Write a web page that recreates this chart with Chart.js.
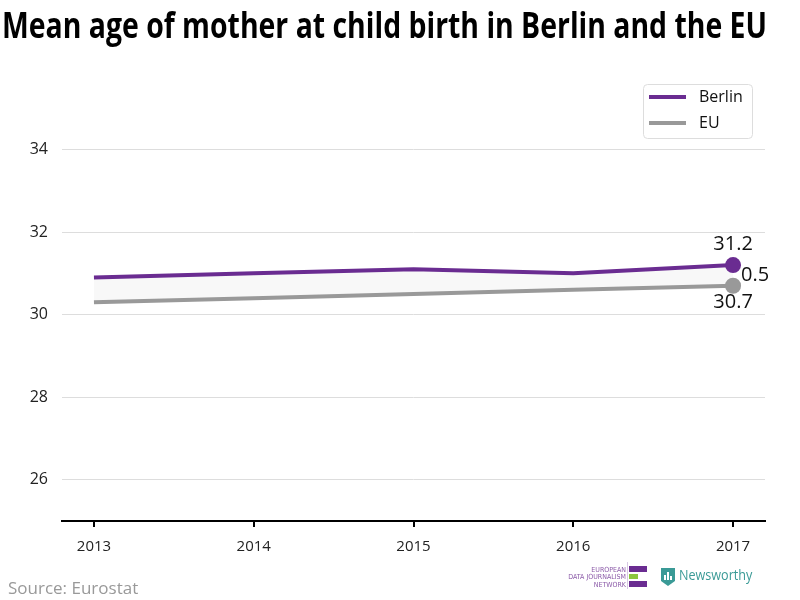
<!DOCTYPE html>
<html>
<head>
<meta charset="utf-8">
<script src="https://cdn.jsdelivr.net/npm/chart.js@4/dist/chart.umd.min.js"></script>
<style>
  html, body { margin: 0; padding: 0; background: #fff; }
  #wrap { position: relative; width: 800px; height: 600px; }
</style>
</head>
<body>
<div id="wrap"><canvas id="chart" width="800" height="600"></canvas></div>
<script>
// Mean age of mother at child birth - Berlin vs EU
const years = [2013, 2014, 2015, 2016, 2017];
const berlinValues = [30.9, 31.0, 31.1, 31.0, 31.2];
const euValues = [30.3, 30.4, 30.5, 30.6, 30.7];
const yTicks = [26, 28, 30, 32, 34];

const PURPLE = '#6a2c91';
const GREY = '#999999';

function toPoints(values) {
    return years.map((y, i) => ({ x: y, y: values[i] }));
}

function lastOnly(radius) {
    return years.map((_, i) => (i === years.length - 1 ? radius : 0));
}

// Title, source, logos, legend and end labels
const decorPlugin = {
    id: 'decor',
    afterDraw(chart) {
        const ctx = chart.ctx;
        const xs = chart.scales.x;
        const ys = chart.scales.y;
        ctx.save();

        // title, squeezed to look condensed
        ctx.font = 'bold 36px "Open Sans"';
        ctx.fillStyle = '#000';
        ctx.textBaseline = 'alphabetic';
        ctx.textAlign = 'left';
        const title = 'Mean age of mother at child birth in Berlin and the EU';
        const w = ctx.measureText(title).width;
        ctx.save();
        ctx.translate(2, 38);
        ctx.scale(765 / w, 1);
        ctx.fillText(title, 0, 0);
        ctx.restore();

        // end labels
        const last = years.length - 1;
        const px = xs.getPixelForValue(years[last]);
        const pb = ys.getPixelForValue(berlinValues[last]);
        const pe = ys.getPixelForValue(euValues[last]);
        ctx.font = '20px "Open Sans"';
        ctx.fillStyle = '#111';
        ctx.textAlign = 'center';
        ctx.textBaseline = 'middle';
        ctx.fillText(berlinValues[last].toFixed(1), px, pb - 21);
        ctx.fillText(euValues[last].toFixed(1), px, pe + 17);
        ctx.textAlign = 'left';
        const diff = (berlinValues[last] - euValues[last]).toFixed(1);
        ctx.fillText(diff, px + 8, (pb + pe) / 2);

        // legend box
        const lx = 643, ly = 84, lw = 109, lh = 54;
        ctx.strokeStyle = '#dddddd';
        ctx.lineWidth = 1;
        ctx.beginPath();
        ctx.roundRect(lx + 0.5, ly + 0.5, lw, lh, 4);
        ctx.fillStyle = '#fff';
        ctx.fill();
        ctx.stroke();
        chart.data.datasets.forEach((ds, i) => {
            const yy = ly + 13 + i * 26;
            ctx.strokeStyle = ds.borderColor;
            ctx.lineWidth = 4;
            ctx.beginPath();
            ctx.moveTo(lx + 6, yy);
            ctx.lineTo(lx + 43, yy);
            ctx.stroke();
            ctx.fillStyle = '#111';
            ctx.font = '16px "Open Sans"';
            ctx.textAlign = 'left';
            ctx.textBaseline = 'middle';
            ctx.fillText(ds.label, lx + 56, yy);
        });

        // source
        ctx.font = '17px "Open Sans"';
        ctx.fillStyle = '#999';
        ctx.textBaseline = 'alphabetic';
        ctx.fillText('Source: Eurostat', 8, 594);

        // EDJN logo
        ctx.font = '7px "DejaVu Sans Condensed"';
        ctx.fillStyle = '#8b5aa8';
        ctx.textAlign = 'right';
        ctx.textBaseline = 'middle';
        ctx.fillText('EUROPEAN', 626, 570);
        ctx.fillText('DATA JOURNALISM', 626, 577);
        ctx.fillText('NETWORK', 626, 585);
        ctx.fillStyle = '#d8c8e4';
        ctx.fillRect(627, 562, 1, 27);
        ctx.fillStyle = PURPLE;
        ctx.fillRect(629, 566, 18, 6);
        ctx.fillStyle = '#8cc63f';
        ctx.fillRect(629, 574, 9, 5);
        ctx.fillStyle = PURPLE;
        ctx.fillRect(629, 581, 18, 6);

        // Newsworthy logo
        ctx.fillStyle = '#3a9a96';
        ctx.beginPath();
        ctx.moveTo(661, 568);
        ctx.lineTo(675, 568);
        ctx.lineTo(675, 581);
        ctx.lineTo(668, 586);
        ctx.lineTo(661, 581);
        ctx.closePath();
        ctx.fill();
        ctx.fillStyle = '#fff';
        ctx.fillRect(664, 575, 2, 5);
        ctx.fillRect(667, 572, 2, 8);
        ctx.fillRect(670, 576, 2, 4);
        ctx.font = '14px "Open Sans"';
        ctx.fillStyle = '#3a9a96';
        ctx.textAlign = 'left';
        ctx.save();
        ctx.translate(679, 576);
        ctx.scale(0.9, 1);
        ctx.fillText('Newsworthy', 0, 0);
        ctx.restore();

        ctx.restore();
    }
};

new Chart(document.getElementById('chart'), {
    type: 'line',
    data: {
        datasets: [
            {
                label: 'Berlin',
                data: toPoints(berlinValues),
                borderColor: PURPLE,
                backgroundColor: '#f8f8f8',
                borderWidth: 4,
                fill: '+1',
                pointRadius: lastOnly(8),
                pointBackgroundColor: PURPLE,
                pointBorderWidth: 0,
                tension: 0
            },
            {
                label: 'EU',
                data: toPoints(euValues),
                borderColor: GREY,
                backgroundColor: GREY,
                borderWidth: 4,
                fill: false,
                pointRadius: lastOnly(8),
                pointBackgroundColor: GREY,
                pointBorderWidth: 0,
                tension: 0
            }
        ]
    },
    options: {
        responsive: false,
        animation: false,
        layout: { padding: { left: 0, right: 35, top: 67, bottom: 0 } },
        plugins: {
            legend: { display: false },
            tooltip: { enabled: false },
            filler: { drawTime: 'beforeDatasetsDraw' }
        },
        scales: {
            x: {
                type: 'linear',
                min: 2012.8,
                max: 2017.2,
                afterBuildTicks(scale) {
                    scale.ticks = years.map(v => ({ value: v }));
                },
                afterFit(scale) { scale.height = 79; },
                border: { display: true, color: '#000', width: 2 },
                grid: {
                    drawOnChartArea: false,
                    drawTicks: true,
                    tickLength: 6,
                    color: '#000',
                    lineWidth: 2
                },
                ticks: {
                    callback: v => String(v),
                    color: '#222',
                    font: { family: 'Open Sans', size: 15 },
                    padding: 11,
                    maxRotation: 0
                }
            },
            y: {
                min: 25,
                max: 36,
                afterBuildTicks(scale) {
                    scale.ticks = yTicks.map(v => ({ value: v }));
                },
                afterFit(scale) { scale.width = 62; },
                border: { display: false },
                grid: {
                    color: '#dddddd',
                    lineWidth: 1,
                    drawTicks: false
                },
                ticks: {
                    color: '#222',
                    font: { family: 'Open Sans', size: 16 },
                    padding: 14
                }
            }
        }
    },
    plugins: [decorPlugin]
});
</script>
</body>
</html>
